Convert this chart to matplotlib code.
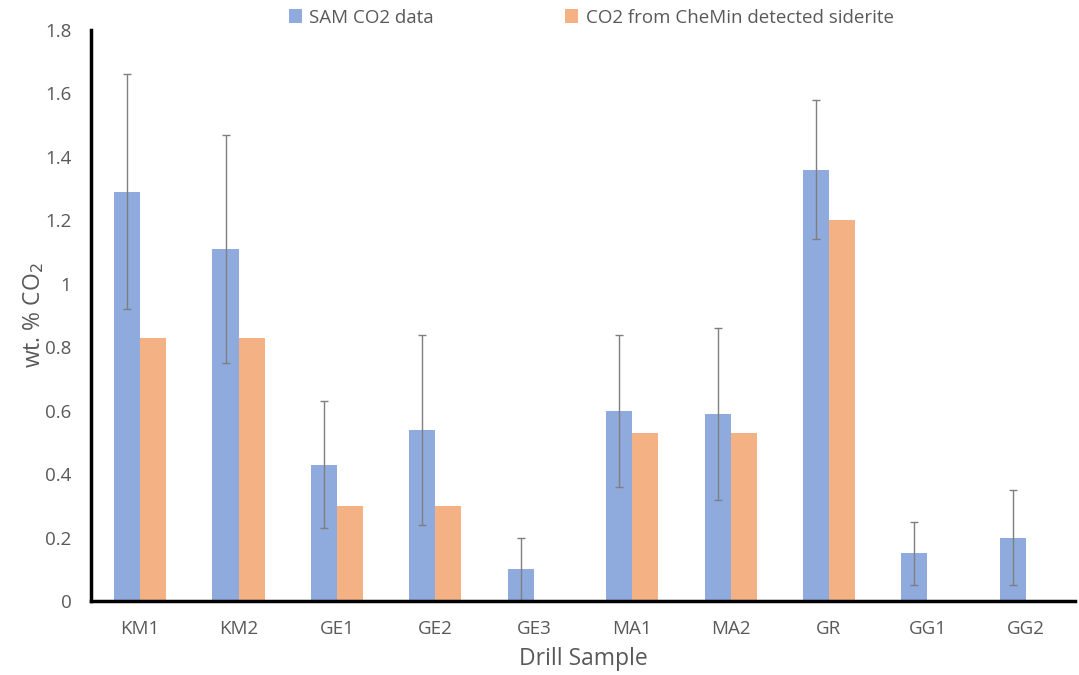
import numpy as np
import matplotlib.pyplot as plt

samples = ["KM1", "KM2", "GE1", "GE2", "GE3", "MA1", "MA2", "GR", "GG1", "GG2"]
sam_co2 = [1.29, 1.11, 0.43, 0.54, 0.10, 0.60, 0.59, 1.36, 0.15, 0.20]
sam_err = [0.37, 0.36, 0.20, 0.30, 0.10, 0.24, 0.27, 0.22, 0.10, 0.15]
chemin_co2 = [0.83, 0.83, 0.30, 0.30, 0.0, 0.53, 0.53, 1.20, 0.0, 0.0]

grey = '#595959'
plt.rcParams['font.family'] = ['Open Sans', 'DejaVu Sans']

fig = plt.figure(figsize=(10.79, 6.75), dpi=100)
ax = fig.add_axes([0.0843, 0.1096, 0.912, 0.846])

x = np.arange(len(samples))
w = 0.265
ax.bar(x - w/2, sam_co2, w, color='#8faadc', label='SAM CO2 data',
       yerr=sam_err, error_kw=dict(ecolor='#7f7f7f', elinewidth=1, capsize=3, capthick=1))
ax.bar(x + w/2, chemin_co2, w, color='#f4b183', label='CO2 from CheMin detected siderite')

ax.set_xlim(-0.5, len(samples) - 0.5)
ax.set_ylim(0, 1.8)
ax.set_yticks(np.arange(0, 1.81, 0.2))
ax.set_yticklabels(['0', '0.2', '0.4', '0.6', '0.8', '1', '1.2', '1.4', '1.6', '1.8'])
ax.set_xticks(x)
ax.set_xticklabels(samples)
ax.tick_params(length=0, labelsize=13.5, colors=grey)
ax.tick_params(axis='x', pad=14)
ax.tick_params(axis='y', pad=14)

for s in ['top', 'right']:
    ax.spines[s].set_visible(False)
for s in ['left', 'bottom']:
    ax.spines[s].set_linewidth(2.5)
    ax.spines[s].set_color('black')

ax.set_xlabel('Drill Sample', fontsize=16.5, color=grey, labelpad=6)
ax.set_ylabel('wt. % CO$_2$', fontsize=16.5, color=grey, labelpad=-1)

fig.legend(*ax.get_legend_handles_labels(), loc='center', bbox_to_anchor=(0.548, 0.974),
           ncol=2, frameon=False, fontsize=13.5, labelcolor=grey, handlelength=0.7,
           handleheight=0.7, handletextpad=0.4, columnspacing=7)

fig.savefig('out.png', dpi=100)
